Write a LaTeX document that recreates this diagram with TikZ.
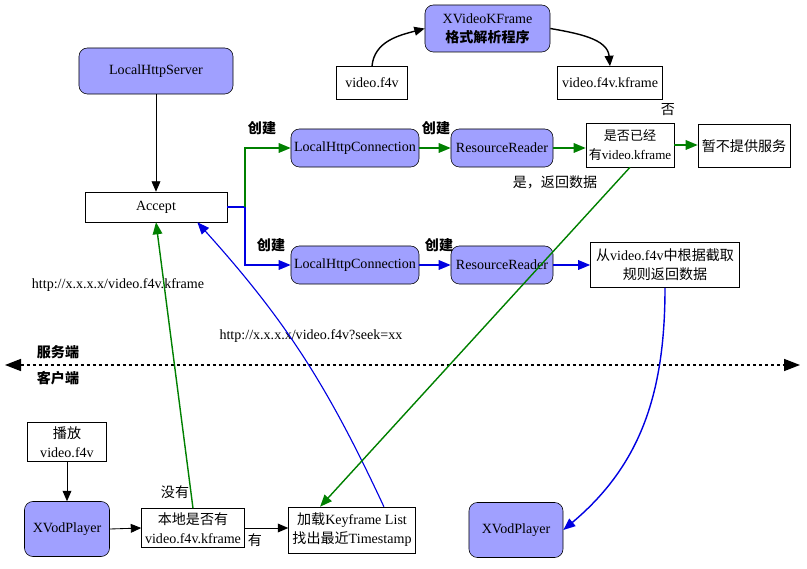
\documentclass[tikz,border=0pt]{standalone}
\usepackage{fontspec}
\setmainfont{Liberation Serif}
\newfontfamily\cjk{Noto Sans CJK SC}
\usetikzlibrary{arrows.meta, calc}
\definecolor{nodelila}{RGB}{160,160,255}
\definecolor{flowgreen}{RGB}{0,128,0}
\definecolor{flowblue}{RGB}{0,0,225}
\newcommand{\zh}[1]{{\cjk #1}}

\begin{document}
\begin{tikzpicture}[
    x=0.025cm, y=-0.025cm,
    font=\fontsize{10}{13.5}\selectfont,
    proc/.style={draw, rounded corners=6pt, fill=nodelila, align=center, inner sep=0pt},
    plain/.style={draw, fill=white, align=center, inner sep=0pt},
    tag/.style={inner sep=0pt, font=\fontsize{10}{13.5}\selectfont\cjk},
    boldtag/.style={inner sep=0pt, font=\fontsize{10}{13.5}\selectfont\cjk\bfseries},
    arr/.style={-{Triangle[length=2.6mm, width=2.2mm]}, line width=0.6pt},
    garr/.style={-{Triangle[length=3mm, width=2.4mm]}, flowgreen, line width=1pt},
    barr/.style={-{Triangle[length=3mm, width=2.4mm]}, flowblue, line width=1pt},
    divider/.style={{Triangle[length=4mm, width=3mm]}-{Triangle[length=4mm, width=3mm]}, line width=1.1pt, dash pattern=on 0.075cm off 0.075cm},
]
\useasboundingbox (0,0) rectangle (807,569);

% ── Parte superior: conversão do arquivo ──────────────
\node[proc, minimum width=3.125cm, minimum height=1.175cm] (kfprog) at (487.5,28.5) {XVideoKFrame\\\zh{\bfseries 格式解析程序}};
\node[plain, minimum width=1.775cm, minimum height=0.825cm] (srcfile) at (372,83) {video.f4v};
\node[plain, minimum width=2.625cm, minimum height=0.825cm] (kffile) at (610,83) {video.f4v.kframe};
\draw[arr, line width=1pt] (srcfile.north) to[out=85, in=195] (kfprog.west);
\draw[arr, line width=1pt] (kfprog.east) to[out=-10, in=95] (kffile.north);

% ── Servidor ─────────────────────────────────────────
\node[proc, minimum width=3.85cm, minimum height=1.15cm] (server) at (156,71) {LocalHttpServer};
\node[plain, minimum width=3.55cm, minimum height=0.75cm] (accept) at (156,207) {Accept};
\draw[arr] (server.south) -- (accept.north);
\coordinate (split) at (245,207);

% linha verde
\node[proc, minimum width=3.2cm, minimum height=0.95cm] (conn1) at (355,148) {LocalHttpConnection};
\node[proc, minimum width=2.55cm, minimum height=0.95cm] (reader1) at (502,148) {ResourceReader};
\node[plain, minimum width=2.2cm, minimum height=1.1cm, font=\fontsize{9.3}{13.5}\selectfont] (check) at (630,145) {\zh{是否已经}\\\zh{有}video.kframe};
\node[plain, minimum width=2.3cm, minimum height=1.075cm] (refuse) at (744,146) {\zh{暂不提供服务}};

% linha azul
\node[proc, minimum width=3.2cm, minimum height=0.95cm] (conn2) at (355,265) {LocalHttpConnection};
\node[proc, minimum width=2.55cm, minimum height=0.95cm] (reader2) at (502,265) {ResourceReader};
\node[plain, minimum width=3.725cm, minimum height=1.125cm] (extract) at (665,265) {\zh{从}video.f4v\zh{中根据截取}\\\zh{规则返回数据}};

\draw[barr] (accept.east) -- (split) |- (conn2.west);
\draw[garr] (split) |- (conn1.west);
\draw[garr] (conn1.east) -- (reader1.west);
\draw[garr] (reader1.east) -- (reader1.east -| check.west);
\draw[garr] (check.east) -- (check.east -| refuse.west);
\draw[barr] (conn2.east) -- (reader2.west);
\draw[barr] (reader2.east) -- (extract.west);

\node[boldtag] (mk1) at (262,128) {创建};
\node[boldtag] (mk2) at (436,128) {创建};
\node[boldtag] (mk3) at (271,245) {创建};
\node[boldtag] (mk4) at (439,245) {创建};
\node[tag] (no) at (668,110) {否};
\node[tag] (yes) at (555,182) {是，返回数据};

% ── Divisão servidor / cliente ───────────────────────
\coordinate (lend) at (5,365);
\coordinate (rend) at (800,365);
\draw[divider] (lend) -- (rend);
\node[boldtag] (srvside) at (58,352) {服务端};
\node[boldtag] (cliside) at (58,378) {客户端};
\node[inner sep=0pt] (url1) at (118,285) {http://x.x.x.x/video.f4v.kframe};
\node[inner sep=0pt] (url2) at (311,336) {http://x.x.x.x/video.f4v?seek=xx};

% ── Cliente ──────────────────────────────────────────
\node[plain, minimum width=1.975cm, minimum height=0.975cm] (play) at (67,442) {\zh{播放}\\video.f4v};
\node[proc, minimum width=2.125cm, minimum height=1.375cm] (player1) at (67,529) {XVodPlayer};
\node[plain, minimum width=2.575cm, minimum height=0.975cm] (local) at (193,528) {\zh{本地是否有}\\video.f4v.kframe};
\node[plain, minimum width=3.175cm, minimum height=1.15cm] (load) at (352,530) {\zh{加载}Keyframe List\\\zh{找出最近}Timestamp};
\node[proc, minimum width=2.35cm, minimum height=1.375cm] (player2) at (516,530) {XVodPlayer};

\draw[arr] (play.south) -- (player1.north);
\draw[arr] (player1.east) -- (local.west);
\draw[arr] (local.east) -- (local.east -| load.west);
\node[tag] (has) at (255,540) {有};
\node[tag] (hasnot) at (175,492) {没有};

% ── Requisições e respostas ──────────────────────────
\draw[garr] (local.north) -- (accept.south);
\draw[barr, line width=0.8pt] ($(load.north)!0.5!(load.north east)$) to[out=115, in=-48] ($(accept.south)!0.58!(accept.south east)$);
\draw[garr] (check.south) -- ($(load.north)!0.5!(load.north west)$);
\draw[barr] (extract.south) to[out=-90, in=40] (player2.east);

\end{tikzpicture}
\end{document}
